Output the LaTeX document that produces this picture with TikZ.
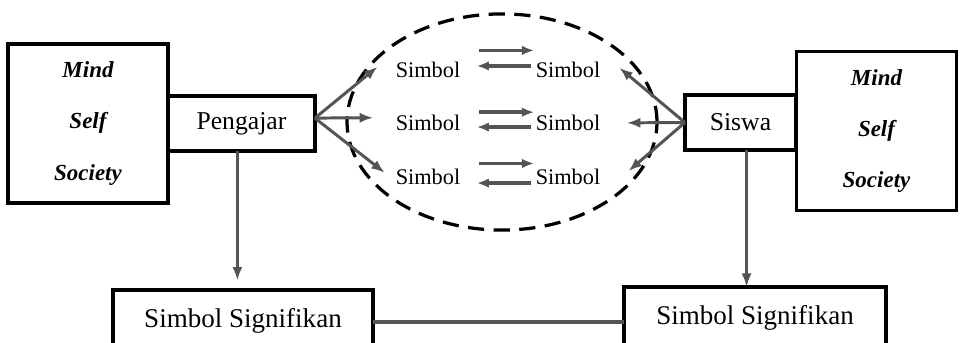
\documentclass[tikz,border=0pt]{standalone}
\usepackage{fontspec}
\setmainfont{Liberation Serif}
\usepackage{tikz}
\usetikzlibrary{arrows.meta,shapes.geometric,positioning,calc}
\definecolor{arrowgray}{gray}{0.33}
\tikzset{
    box/.style={draw, line width=2.8pt, outer sep=0pt, inner sep=0pt},
    mindbox/.style={box, minimum width=4.16cm, minimum height=4.13cm, align=center, font=\fontsize{17}{38}\selectfont\bfseries\itshape},
    actor/.style={box, minimum height=1.45cm, font=\fontsize{19}{22}\selectfont},
    sigbox/.style={box, anchor=north, minimum height=1.61cm, font=\fontsize{20}{24}\selectfont},
    simbol/.style={font=\fontsize{16.5}{19}\selectfont, inner sep=4pt},
    flow/.style={-{Latex[length=10pt, width=7.5pt]}, line width=2.2pt, arrowgray},
    interact/.style={-{Latex[length=9pt, width=7pt]}, line width=2.6pt, arrowgray}
}

\begin{document}
\begin{tikzpicture}[x=0.026cm, y=-0.026cm]
    \useasboundingbox (0,0) rectangle (962,343);
    \node[mindbox] (mindL) at (88,123.5) {Mind\\Self\\Society};
    \node[actor, minimum width=3.82cm, right=0pt of mindL] (Pengajar) {Pengajar};
    \node[actor, minimum width=2.89cm] (Siswa) at (740.5,122.5) {Siswa};
    \node[mindbox] (mindR) at (876.5,131) {Mind\\Self\\Society};
    \node[draw, ellipse, dashed, line width=2.4pt, dash pattern=on 12pt off 7pt,
          minimum width=8.06cm, minimum height=5.62cm] (cloud) at (502,122) {};
    \node[simbol] (sL1) at (428,70) {Simbol};
    \node[simbol] (sL2) at (428,123) {Simbol};
    \node[simbol] (sL3) at (428,177) {Simbol};
    \node[simbol] (sR1) at (568,70) {Simbol};
    \node[simbol] (sR2) at (568,123) {Simbol};
    \node[simbol] (sR3) at (568,177) {Simbol};
    \node[sigbox, minimum width=6.76cm] (sigL) at (243,290) {Simbol Signifikan};
    \node[sigbox, minimum width=6.81cm] (sigR) at (755,287) {Simbol Signifikan};

    \draw[flow, shorten >=12pt] ([yshift=4pt]Pengajar.east) -- (sL1.north west);
    \draw[flow, shorten >=12.5pt] ([yshift=4pt]Pengajar.east) -- ([yshift=4pt]sL2.west);
    \draw[flow, shorten >=5pt] ([yshift=4pt]Pengajar.east) -- (sL3.west);
    \draw[flow, shorten >=13pt] (Siswa.west) -- (sR1.north east);
    \draw[flow, shorten >=15.5pt] (Siswa.west) -- (sR2.east);
    \draw[flow, shorten >=22pt] (Siswa.west) -- (sR3.south east);

    \draw[interact, shorten <=10pt, shorten >=-3pt] ([yshift=14.5pt]sL1.east) -- ([yshift=14.5pt]sR1.west);
    \draw[interact, shorten <=-1pt, shorten >=8pt] ([yshift=3pt]sR1.west) -- ([yshift=3pt]sL1.east);
    \draw[interact, shorten <=10pt, shorten >=-3pt] ([yshift=8pt]sL2.east) -- ([yshift=8pt]sR2.west);
    \draw[interact, shorten <=-1pt, shorten >=8pt] ([yshift=-3pt]sR2.west) -- ([yshift=-3pt]sL2.east);
    \draw[interact, shorten <=10pt, shorten >=-3pt] ([yshift=10pt]sL3.east) -- ([yshift=10pt]sR3.west);
    \draw[interact, shorten <=-1pt, shorten >=8pt] ([yshift=-4.5pt]sR3.west) -- ([yshift=-4.5pt]sL3.east);

    \draw[flow, shorten >=7pt] ([xshift=-3pt]Pengajar.south) -- ([xshift=-3pt]Pengajar.south |- sigL.north);
    \draw[flow] ([xshift=4.5pt]Siswa.south) -- ([xshift=4.5pt]Siswa.south |- sigR.north);
    \draw[line width=3.2pt, arrowgray] ([yshift=-1pt]sigL.center -| sigL.east) -- ([yshift=-1pt]sigL.center -| sigR.west);
\end{tikzpicture}
\end{document}
